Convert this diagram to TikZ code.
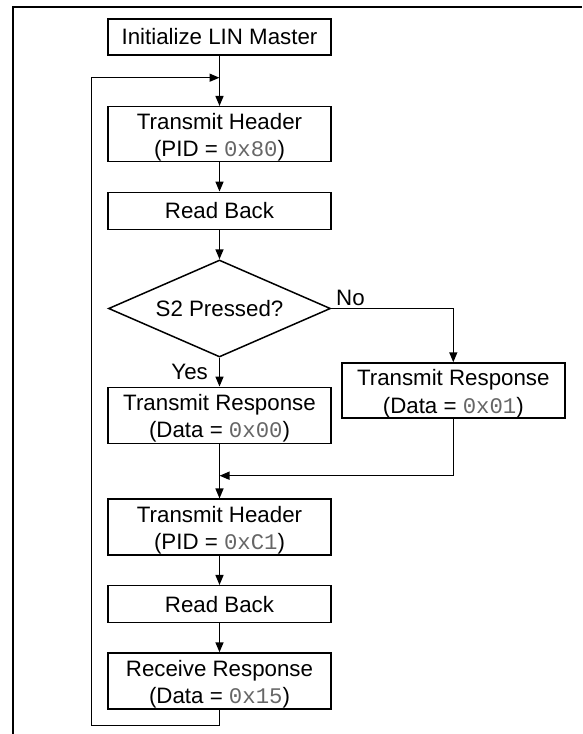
\documentclass[tikz,border=0pt]{standalone}
\usepackage{fontspec}
\setmainfont{Liberation Sans}
\newfontfamily\hexfont{Liberation Mono}
\usetikzlibrary{shapes.geometric,arrows.meta}
\definecolor{hexgray}{gray}{0.4}
\newcommand{\hexv}[1]{{\hexfont\color{hexgray}#1}}
\newcommand{\toppad}{\rule{0pt}{22.5pt}}
\begin{document}
\begin{tikzpicture}[x=1pt,y=-1pt,
  font=\fontsize{22.3pt}{27.5pt}\selectfont,
  box/.style={draw, line width=1.5pt, minimum width=223pt, inner sep=0pt, align=center},
  decision/.style={draw, diamond, aspect=2.3, minimum width=222pt, minimum height=97pt, inner sep=0pt, line width=1.5pt},
  flow/.style={line width=1.5pt, -{Triangle[length=10pt,width=8pt]}},
  lbl/.style={inner sep=0pt}]
\useasboundingbox (0,0) rectangle (582,734);
\draw[line width=2pt] (13,734) -- (13,6.5) -- (582,6.5);

\node[box, minimum height=36pt] (init) at (219.5,37) {Initialize LIN Master};
\node[box, minimum height=55pt] (th1) at (219.5,134.2) {\toppad Transmit Header\\(PID = \hexv{0x80})};
\node[box, minimum height=37pt] (rb1) at (219.5,210.8) {Read Back};
\node[decision] (dia) at (219.5,308.5) {S2 Pressed?};
\node[box, minimum height=56pt] (trl) at (219.5,415.3) {\toppad Transmit Response\\(Data = \hexv{0x00})};
\node[box, minimum height=55pt] (trr) at (453.3,390.5) {\toppad Transmit Response\\(Data = \hexv{0x01})};
\node[box, minimum height=56pt] (th2) at (219.5,527.2) {\toppad Transmit Header\\(PID = \hexv{0xC1})};
\node[box, minimum height=37pt] (rb2) at (219.5,604.2) {Read Back};
\node[box, minimum height=56pt] (rr) at (219.5,681) {\toppad Receive Response\\(Data = \hexv{0x15})};

\node[lbl, anchor=base west] (no) at (336,305) {No};
\node[lbl, anchor=base east] (yes) at (208,379.3) {Yes};

\coordinate (loopjoin) at (219.5,77.7);
\coordinate (loopbot) at (91.7,725.7);
\coordinate (merge) at (219.5,475.7);

\draw[flow] (init) -- (th1);
\draw[flow] (th1) -- (rb1);
\draw[flow] (rb1) -- (dia);
\draw[flow] (dia.south) -- (trl);
\draw[flow] (dia.east) -| (trr.north);
\draw[flow] (trl) -- (th2);
\draw[flow] (trr.south) |- (merge);
\draw[flow] (th2) -- (rb2);
\draw[flow] (rb2) -- (rr);
\draw[flow] (rr.south) |- (loopbot) |- (loopjoin);
\end{tikzpicture}
\end{document}
